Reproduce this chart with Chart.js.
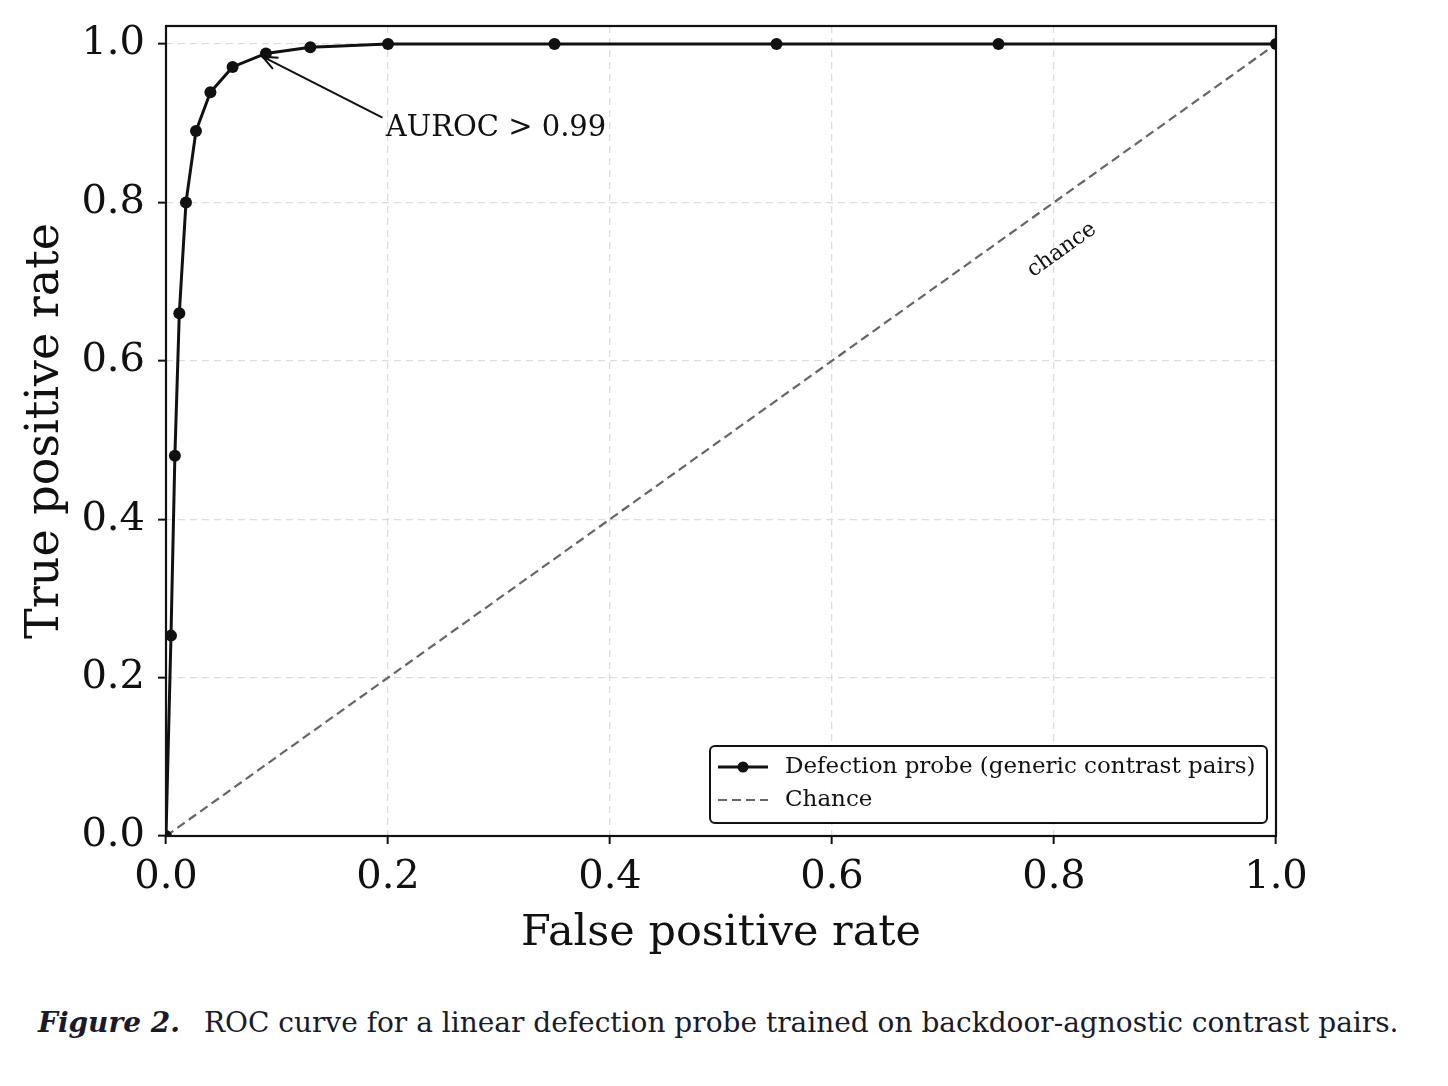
<!DOCTYPE html>
<html lang="en">
<head>
    <meta charset="UTF-8">
    <title>ROC curve - defection probe</title>
    <script src="https://cdn.jsdelivr.net/npm/chart.js"></script>
    <style>
        body {
            margin: 0;
            padding: 0;
            background: #ffffff;
            font-family: 'DejaVu Serif', serif;
            color: #111;
        }
        .chart-box {
            width: 1448px;
            height: 975px;
        }
        .caption {
            margin: 31px 0 0 38px;
            font-size: 28px;
            color: #1a1a2a;
        }
        .caption b {
            font-style: italic;
            margin-right: 15px;
        }
    </style>
</head>
<body>
    <div class="chart-box">
        <canvas id="roc-chart" width="1448" height="975"></canvas>
    </div>
    <div class="caption"><b>Figure 2.</b> ROC curve for a linear defection probe trained on backdoor-agnostic contrast pairs.</div>

    <script>
        // ROC points
        const fpr = [0, 0.0045, 0.008, 0.012, 0.018, 0.027, 0.040, 0.060, 0.090, 0.130, 0.20, 0.35, 0.55, 0.75, 1.0];
        const tpr = [0, 0.253, 0.48, 0.66, 0.80, 0.89, 0.939, 0.971, 0.988, 0.996, 1.0, 1.0, 1.0, 1.0, 1.0];
        const chanceX = [0, 1];
        const chanceY = [0, 1];
        const xTicks = [0, 0.2, 0.4, 0.6, 0.8, 1.0];
        const yTicks = [0, 0.2, 0.4, 0.6, 0.8, 1.0];
        const probeLabel = 'Defection probe (generic contrast pairs)';
        const chanceLabel = 'Chance';
        const aurocText = 'AUROC > 0.99';
        const aurocTextAt = [0.198, 0.893];
        const aurocArrowFrom = [0.195, 0.907];
        const aurocArrowTo = [0.087, 0.984];
        const chanceTextAt = [0.807, 0.740];

        const serif = "'DejaVu Serif', serif";

        // box around the plot, annotations and the legend
        const extras = {
            id: 'extras',
            afterDatasetsDraw(chart) {
                const ctx = chart.ctx;
                const area = chart.chartArea;
                const xs = chart.scales.x, ys = chart.scales.y;
                const px = v => xs.getPixelForValue(v);
                const py = v => ys.getPixelForValue(v);

                ctx.save();
                ctx.strokeStyle = '#111';
                ctx.lineWidth = 2.2;
                ctx.strokeRect(area.left, area.top, area.right - area.left, area.bottom - area.top);

                // AUROC arrow
                const x0 = px(aurocArrowFrom[0]), y0 = py(aurocArrowFrom[1]);
                const x1 = px(aurocArrowTo[0]), y1 = py(aurocArrowTo[1]);
                ctx.lineWidth = 2;
                ctx.beginPath();
                ctx.moveTo(x0, y0);
                ctx.lineTo(x1, y1);
                const ang = Math.atan2(y0 - y1, x0 - x1);
                const head = 16;
                ctx.moveTo(x1 + head * Math.cos(ang + 0.4), y1 + head * Math.sin(ang + 0.4));
                ctx.lineTo(x1, y1);
                ctx.lineTo(x1 + head * Math.cos(ang - 0.4), y1 + head * Math.sin(ang - 0.4));
                ctx.stroke();

                ctx.fillStyle = '#111';
                ctx.font = '29px ' + serif;
                ctx.textAlign = 'left';
                ctx.textBaseline = 'middle';
                ctx.fillText(aurocText, px(aurocTextAt[0]), py(aurocTextAt[1]));

                // rotated "chance" label along the diagonal
                const slope = Math.atan2(py(1) - py(0), px(1) - px(0));
                ctx.save();
                ctx.translate(px(chanceTextAt[0]), py(chanceTextAt[1]));
                ctx.rotate(slope);
                ctx.font = '22px ' + serif;
                ctx.textAlign = 'center';
                ctx.fillText('chance', 0, 0);
                ctx.restore();

                // legend
                const lx = 710, ly = 746, lw = 557, lh = 77;
                ctx.fillStyle = 'rgba(255,255,255,0.9)';
                ctx.strokeStyle = '#111';
                ctx.lineWidth = 2;
                ctx.beginPath();
                ctx.roundRect(lx, ly, lw, lh, 5);
                ctx.fill();
                ctx.stroke();

                const probe = chart.data.datasets[0];
                const chance = chart.data.datasets[1];
                ctx.strokeStyle = probe.borderColor;
                ctx.lineWidth = probe.borderWidth;
                ctx.beginPath();
                ctx.moveTo(lx + 8, ly + 21);
                ctx.lineTo(lx + 58, ly + 21);
                ctx.stroke();
                ctx.fillStyle = probe.pointBackgroundColor;
                ctx.beginPath();
                ctx.arc(lx + 33, ly + 21, 5.5, 0, Math.PI * 2);
                ctx.fill();

                ctx.strokeStyle = chance.borderColor;
                ctx.lineWidth = chance.borderWidth;
                ctx.setLineDash(chance.borderDash);
                ctx.beginPath();
                ctx.moveTo(lx + 8, ly + 54);
                ctx.lineTo(lx + 58, ly + 54);
                ctx.stroke();
                ctx.setLineDash([]);

                ctx.fillStyle = '#111';
                ctx.font = '23px ' + serif;
                ctx.textBaseline = 'middle';
                ctx.fillText(probe.label, lx + 75, ly + 21);
                ctx.fillText(chance.label, lx + 75, ly + 54);
                ctx.restore();
            }
        };

        const gridStyle = {
            color: '#dcdcdc',
            lineWidth: 1.3,
            tickColor: '#111',
            tickWidth: 2,
            tickLength: 8,
            tickBorderDash: [],
        };

        const ctx = document.getElementById('roc-chart').getContext('2d');
        const rocChart = new Chart(ctx, {
            type: 'scatter',
            data: {
                datasets: [{
                    label: probeLabel,
                    data: fpr.map((x, i) => ({ x: x, y: tpr[i] })),
                    showLine: true,
                    borderColor: '#111111',
                    borderWidth: 3,
                    pointBackgroundColor: '#111111',
                    pointBorderWidth: 0,
                    pointRadius: 6,
                    order: 1,
                }, {
                    label: chanceLabel,
                    data: chanceX.map((x, i) => ({ x: x, y: chanceY[i] })),
                    showLine: true,
                    borderColor: '#666666',
                    borderWidth: 2.2,
                    borderDash: [9, 5],
                    pointRadius: 0,
                    order: 2,
                }],
            },
            options: {
                responsive: false,
                animation: false,
                layout: {
                    padding: { left: 18, top: 26, right: 172, bottom: 15 },
                },
                plugins: {
                    legend: { display: false },
                    tooltip: { enabled: false },
                },
                scales: {
                    x: {
                        type: 'linear',
                        min: 0,
                        max: 1.0,
                        afterBuildTicks: s => { s.ticks = xTicks.map(v => ({ value: v })); },
                        afterFit: s => { s.height = 124; s.paddingLeft = 0; s.paddingRight = 0; },
                        border: { display: false, dash: [7, 5] },
                        grid: gridStyle,
                        ticks: {
                            color: '#111',
                            padding: 10,
                            font: { family: serif, size: 40 },
                            callback: v => v.toFixed(1),
                        },
                        title: {
                            display: true,
                            text: 'False positive rate',
                            color: '#111',
                            padding: 0,
                            font: { family: serif, size: 43 },
                        },
                    },
                    y: {
                        type: 'linear',
                        min: 0,
                        max: 1.0227,
                        afterBuildTicks: s => { s.ticks = yTicks.map(v => ({ value: v })); },
                        afterFit: s => { s.width = 148; s.paddingTop = 0; s.paddingBottom = 0; },
                        border: { display: false, dash: [7, 5] },
                        grid: gridStyle,
                        ticks: {
                            color: '#111',
                            padding: 13,
                            font: { family: serif, size: 40 },
                            callback: v => v.toFixed(1),
                        },
                        title: {
                            display: true,
                            text: 'True positive rate',
                            color: '#111',
                            padding: 0,
                            font: { family: serif, size: 46 },
                        },
                    },
                },
            },
            plugins: [extras],
        });
    </script>
</body>
</html>
